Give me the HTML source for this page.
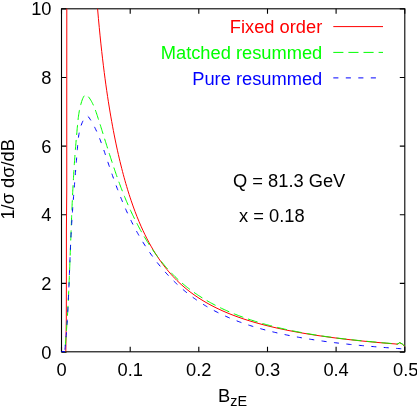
<!DOCTYPE html>
<html><head><meta charset="utf-8"><style>
html,body{margin:0;padding:0;background:#fff;}
svg{display:block;will-change:transform;}
text{font-family:"Liberation Sans",sans-serif;font-size:18.3px;fill:#000;}
</style></head><body>
<svg width="417" height="407" viewBox="0 0 417 407">
<rect width="417" height="407" fill="#fff"/>

<g fill="none" stroke="#000" stroke-width="1.1">
<rect x="61.5" y="8.8" width="343.3" height="343.0"/>
<path d="M61.5,351.8 v-5 M61.5,8.8 v5 M130.2,351.8 v-5 M130.2,8.8 v5 M198.8,351.8 v-5 M198.8,8.8 v5 M267.5,351.8 v-5 M267.5,8.8 v5 M336.1,351.8 v-5 M336.1,8.8 v5 M404.8,351.8 v-5 M404.8,8.8 v5 M61.5,352.1 h5 M404.8,352.1 h-5 M61.5,283.4 h5 M404.8,283.4 h-5 M61.5,214.8 h5 M404.8,214.8 h-5 M61.5,146.1 h5 M404.8,146.1 h-5 M61.5,77.5 h5 M404.8,77.5 h-5 M61.5,8.9 h5 M404.8,8.9 h-5 "/>
</g>
<g fill="none" stroke-width="1" stroke-linejoin="round">
<path d="M65.80,351.60 L66.30,319.00 L66.40,272.00 L66.40,230.00 L66.76,190.00 L66.76,100.00 L66.80,8.70" stroke="#ff0000"/>
<path d="M97.59,8.80 L98.42,18.36 L99.25,27.37 L100.08,35.87 L100.91,43.92 L101.74,51.57 L102.58,58.85 L103.41,65.79 L104.24,72.43 L105.07,78.78 L105.90,84.87 L106.73,90.72 L107.56,96.35 L108.39,101.77 L109.22,107.00 L110.05,112.05 L110.89,116.92 L111.72,121.64 L112.55,126.20 L113.38,130.62 L114.21,134.91 L115.04,139.06 L115.87,143.09 L116.70,147.01 L117.53,150.81 L118.37,154.51 L119.20,158.11 L120.03,161.60 L120.86,165.01 L121.69,168.32 L122.52,171.55 L123.35,174.69 L124.18,177.76 L125.01,180.74 L125.84,183.66 L126.68,186.50 L127.51,189.27 L128.34,191.97 L129.17,194.61 L130.00,197.18 L131.00,200.20 L133.00,205.98 L135.00,211.45 L137.00,216.63 L139.00,221.53 L141.00,226.18 L143.00,230.59 L145.00,234.78 L147.00,238.76 L149.00,242.54 L151.00,246.15 L153.00,249.58 L155.00,252.85 L157.00,255.97 L159.00,258.95 L161.00,261.79 L163.00,264.50 L165.00,267.10 L167.00,269.59 L169.00,271.97 L171.00,274.24 L173.00,276.43 L175.00,278.52 L177.00,280.53 L179.00,282.46 L181.00,284.32 L183.00,286.10 L185.00,287.81 L187.00,289.46 L189.00,291.05 L191.00,292.58 L193.00,294.05 L195.00,295.47 L197.00,296.85 L199.00,298.17 L201.00,299.45 L203.00,300.68 L205.00,301.88 L207.00,303.03 L209.00,304.15 L211.00,305.23 L213.00,306.28 L215.00,307.29 L217.00,308.27 L219.00,309.23 L221.00,310.15 L223.00,311.05 L225.00,311.92 L227.00,312.77 L229.00,313.59 L231.00,314.39 L233.00,315.17 L235.00,315.92 L237.00,316.66 L239.00,317.37 L241.00,318.07 L243.00,318.75 L245.00,319.41 L247.00,320.05 L249.00,320.68 L251.00,321.29 L253.00,321.89 L255.00,322.47 L257.00,323.04 L259.00,323.60 L261.00,324.14 L263.00,324.67 L265.00,325.19 L267.00,325.69 L269.00,326.19 L271.00,326.67 L273.00,327.14 L275.00,327.60 L277.00,328.06 L279.00,328.50 L281.00,328.93 L283.00,329.36 L285.00,329.77 L287.00,330.18 L289.00,330.58 L291.00,330.97 L293.00,331.35 L295.00,331.73 L297.00,332.10 L299.00,332.46 L301.00,332.81 L303.00,333.16 L305.00,333.50 L307.00,333.83 L309.00,334.16 L311.00,334.48 L313.00,334.80 L315.00,335.11 L317.00,335.41 L319.00,335.71 L321.00,336.00 L323.00,336.29 L325.00,336.57 L327.00,336.85 L329.00,337.12 L331.00,337.39 L333.00,337.65 L335.00,337.91 L337.00,338.16 L339.00,338.41 L341.00,338.66 L343.00,338.90 L345.00,339.13 L347.00,339.37 L349.00,339.60 L351.00,339.82 L353.00,340.04 L355.00,340.26 L357.00,340.47 L359.00,340.68 L361.00,340.89 L363.00,341.09 L365.00,341.29 L367.00,341.48 L369.00,341.68 L371.00,341.87 L373.00,342.05 L375.00,342.24 L377.00,342.42 L379.00,342.59 L381.00,342.77 L383.00,342.94 L385.00,343.11 L387.00,343.27 L389.00,343.44 L391.00,343.60 L393.00,343.75 L395.00,343.91 L397.00,344.20 L398.00,344.00 L399.50,342.80 L401.00,343.40 L402.50,344.30 L403.50,345.10 L404.50,346.30" stroke="#ff0000"/>
<path d="M64.81,351.62 L64.94,350.22 L65.06,348.83 L65.18,347.44 L65.30,346.04 L65.41,344.65 L65.53,343.25 L65.64,341.86 L65.75,340.47 L65.86,339.07 L65.96,337.68 L66.07,336.29 L66.17,334.89 L66.28,333.50 L66.38,332.10 L66.48,330.71 L66.57,329.32 L66.67,327.92 L66.76,326.53 L66.86,325.13 L66.95,323.74 L67.04,322.35 L67.13,320.95 L67.21,319.56 L67.30,318.16 L67.38,316.77 L67.47,315.37 L67.55,313.98 L67.63,312.59 L67.71,311.19 L67.79,309.80 L67.87,308.40 L67.94,307.01 L68.02,305.61 L68.09,304.22 L68.16,302.82 L68.23,301.43 L68.31,300.03 L68.38,298.64 L68.44,297.25 L68.51,295.85 L68.58,294.46 L68.64,293.06 L68.71,291.67 L68.77,290.27 L68.84,288.88 L68.90,287.48 L68.96,286.09 L69.02,284.69 L69.08,283.30 L69.14,281.90 L69.20,280.51 L69.26,279.11 L69.32,277.72 L69.38,276.32 L69.43,274.93 L69.49,273.53 L69.54,272.14 L69.60,270.74 L69.65,269.35 L69.71,267.95 L69.76,266.56 L69.82,265.16 L69.87,263.77 L69.92,262.37 L69.97,260.97 L70.03,259.58 L70.08,258.18 L70.13,256.79 L70.18,255.39 L70.23,254.00 L70.28,252.60 L70.33,251.21 L70.39,249.81 L70.44,248.42 L70.49,247.02 L70.54,245.63 L70.59,244.23 L70.64,242.84 L70.69,241.44 L70.74,240.04 L70.79,238.65 L70.84,237.25 L70.89,235.86 L70.95,234.46 L71.00,233.07 L71.05,231.67 L71.10,230.28 L71.15,228.88 L71.21,227.49 L71.26,226.09 L71.31,224.69 L71.37,223.30 L71.42,221.90 L71.47,220.51 L71.53,219.11 L71.58,217.72 L71.64,216.32 L71.70,214.93 L71.75,213.53 L71.81,212.13 L71.87,210.74 L71.93,209.34 L71.99,207.95 L72.05,206.55 L72.11,205.16 L72.17,203.76 L72.23,202.37 L72.30,200.97 L72.36,199.58 L72.43,198.18 L72.49,196.78 L72.56,195.39 L72.63,193.99 L72.69,192.60 L72.76,191.20 L72.83,189.81 L72.91,188.41 L72.98,187.02 L73.05,185.62 L73.13,184.23 L73.20,182.83 L73.28,181.44 L73.36,180.04 L73.44,178.64 L73.52,177.25 L73.60,175.85 L73.68,174.46 L73.76,173.06 L73.85,171.67 L73.94,170.27 L74.02,168.88 L74.11,167.48 L74.21,166.09 L74.30,164.69 L74.39,163.30 L74.49,161.90 L74.58,160.51 L74.68,159.11 L74.78,157.72 L74.88,156.32 L74.99,154.93 L75.09,153.53 L75.20,152.14 L75.31,150.74 L75.42,149.35 L75.53,147.95 L75.64,146.56 L75.75,145.17 L75.87,143.78 L75.99,142.38 L76.10,140.99 L76.22,139.60 L76.34,138.22 L76.46,136.83 L76.59,135.44 L76.71,134.06 L76.83,132.68 L76.96,131.30 L77.09,129.92 L77.21,128.54 L77.34,127.17 L77.47,125.79 L77.60,124.42 L77.73,123.05 L77.86,121.68 L78.00,120.31 L78.15,118.94 L78.31,117.56 L78.49,116.18 L78.68,114.78 L78.90,113.38 L79.13,111.96 L79.39,110.52 L79.68,109.07 L80.01,107.61 L80.36,106.12 L80.75,104.61 L81.19,103.07 L81.66,101.52 L82.18,99.99 L82.73,98.55 L83.33,97.27 L83.98,96.19 L84.66,95.39 L85.38,94.93 L86.14,94.87 L86.94,95.25 L87.76,95.98 L88.56,96.94 L89.34,97.97 L90.08,99.05 L90.78,100.16 L91.45,101.31 L92.09,102.50 L92.70,103.71 L93.28,104.95 L93.84,106.22 L94.37,107.51 L94.89,108.82 L95.39,110.14 L95.87,111.49 L96.34,112.84 L96.80,114.20 L97.26,115.56 L97.70,116.93 L98.14,118.30 L98.58,119.67 L99.02,121.04 L99.45,122.41 L99.88,123.77 L100.32,125.13 L100.75,126.49 L101.17,127.85 L101.60,129.21 L102.03,130.56 L102.45,131.91 L102.87,133.27 L103.30,134.62 L103.72,135.96 L104.14,137.31 L104.56,138.66 L104.98,140.00 L105.40,141.34 L105.82,142.68 L106.24,144.02 L106.67,145.36 L107.09,146.69 L107.51,148.03 L107.93,149.36 L108.35,150.69 L108.77,152.02 L109.20,153.35 L109.62,154.67 L110.05,156.00 L110.48,157.32 L110.91,158.64 L111.34,159.96 L111.77,161.28 L112.20,162.60 L112.64,163.92 L113.07,165.23 L113.51,166.55 L113.95,167.86 L114.40,169.17 L114.84,170.48 L115.29,171.78 L115.75,173.09 L116.20,174.40 L116.66,175.70 L117.12,177.00 L117.58,178.30 L118.05,179.60 L118.52,180.90 L118.99,182.20 L119.47,183.50 L119.95,184.79 L120.43,186.08 L120.92,187.38 L121.42,188.67 L121.91,189.96 L122.41,191.25 L122.92,192.53 L123.43,193.82 L123.95,195.11 L124.47,196.39 L124.99,197.67 L125.52,198.95 L126.06,200.23 L126.60,201.51 L127.15,202.79 L127.70,204.07 L128.26,205.35 L128.82,206.62 L129.39,207.89 L129.96,209.17 L130.55,210.44 L131.13,211.71 L131.73,212.98 L132.33,214.25 L132.94,215.51 L133.55,216.78 L134.17,218.04 L134.79,219.30 L135.43,220.56 L136.07,221.82 L136.71,223.07 L137.36,224.33 L138.02,225.57 L138.69,226.82 L139.36,228.06 L140.04,229.30 L140.73,230.54 L141.42,231.77 L142.12,233.00 L142.82,234.23 L143.54,235.45 L144.26,236.67 L144.98,237.88 L145.72,239.09 L146.46,240.30 L147.20,241.50 L147.96,242.69 L148.72,243.89 L149.49,245.07 L150.26,246.25 L151.05,247.43 L151.84,248.60 L152.63,249.76 L153.44,250.92 L154.25,252.07 L155.07,253.22 L155.89,254.36 L156.73,255.49 L157.57,256.62 L158.42,257.74 L159.27,258.85 L160.13,259.96 L161.01,261.06 L161.88,262.15 L162.77,263.24 L163.66,264.31 L164.56,265.38 L165.47,266.44 L166.39,267.50 L167.31,268.54 L168.24,269.58 L169.18,270.61 L170.13,271.63 L171.09,272.64 L172.05,273.64 L173.02,274.64 L174.00,275.62 L174.98,276.60 L175.98,277.56 L176.98,278.52 L177.99,279.46 L179.01,280.40 L180.04,281.32 L181.07,282.24 L182.11,283.15 L183.17,284.04 L184.22,284.93 L185.29,285.80 L186.36,286.67 L187.45,287.52 L188.54,288.37 L189.63,289.21 L190.74,290.03 L191.85,290.85 L192.96,291.66 L194.09,292.46 L195.22,293.25 L196.36,294.03 L197.50,294.80 L198.66,295.56 L199.81,296.31 L200.98,297.05 L202.15,297.79 L203.33,298.51 L204.51,299.23 L205.70,299.94 L206.89,300.64 L208.09,301.33 L209.30,302.01 L210.51,302.68 L211.73,303.35 L212.95,304.00 L214.18,304.65 L215.41,305.29 L216.65,305.93 L217.90,306.55 L219.14,307.17 L220.40,307.78 L221.65,308.38 L222.92,308.97 L224.18,309.55 L225.46,310.13 L226.73,310.70 L228.01,311.26 L229.30,311.82 L230.58,312.37 L231.88,312.91 L233.17,313.44 L234.47,313.97 L235.78,314.49 L237.08,315.00 L238.39,315.50 L239.71,316.00 L241.02,316.49 L242.34,316.98 L243.67,317.45 L244.99,317.92 L246.32,318.39 L247.65,318.85 L248.99,319.30 L250.32,319.74 L251.66,320.18 L253.01,320.62 L254.35,321.04 L255.70,321.46 L257.04,321.88 L258.39,322.29 L259.75,322.69 L261.10,323.09 L262.46,323.48 L263.81,323.87 L265.17,324.25 L266.53,324.62 L267.89,324.99 L269.26,325.35 L270.62,325.71 L271.99,326.07 L273.35,326.42 L274.72,326.76 L276.08,327.10 L277.45,327.43 L278.82,327.76 L280.19,328.08 L281.56,328.40 L282.93,328.71 L284.30,329.02 L285.67,329.33 L287.04,329.63 L288.41,329.93 L289.77,330.22 L291.14,330.50 L292.51,330.79 L293.88,331.07 L295.25,331.34 L296.62,331.61 L297.99,331.88 L299.35,332.14 L300.72,332.40 L302.09,332.66 L303.46,332.91 L304.83,333.15 L306.19,333.40 L307.56,333.64 L308.93,333.87 L310.30,334.11 L311.67,334.34 L313.04,334.56 L314.40,334.79 L315.77,335.00 L317.14,335.22 L318.51,335.43 L319.88,335.64 L321.25,335.85 L322.62,336.05 L324.00,336.25 L325.37,336.45 L326.74,336.65 L328.11,336.84 L329.49,337.03 L330.86,337.22 L332.23,337.40 L333.61,337.58 L334.98,337.76 L336.36,337.94 L337.74,338.11 L339.11,338.28 L340.49,338.45 L341.87,338.62 L343.25,338.78 L344.63,338.94 L346.01,339.10 L347.39,339.26 L348.77,339.42 L350.16,339.57 L351.54,339.73 L352.93,339.88 L354.31,340.03 L355.70,340.17 L357.09,340.32 L358.48,340.46 L359.87,340.60 L361.26,340.74 L362.65,340.88 L364.05,341.02 L365.44,341.16 L366.84,341.29 L368.23,341.43 L369.63,341.56 L371.03,341.69 L372.43,341.82 L373.83,341.95 L375.24,342.08 L376.64,342.21 L378.05,342.33 L379.46,342.46 L380.86,342.59 L382.28,342.71 L383.69,342.83 L385.10,342.96 L386.52,343.08 L387.93,343.20 L389.35,343.32 L390.77,343.45 L392.19,343.57 L397.00,344.00 L398.00,343.80 L399.50,342.60 L401.00,343.20 L402.50,344.10 L403.50,344.90 L404.40,346.00" stroke="#00ff00" stroke-dasharray="10.1,5" stroke-dashoffset="9.5"/>
<path d="M61.50,351.60 L64.73,351.59 L64.87,350.25 L65.00,348.91 L65.13,347.56 L65.26,346.22 L65.39,344.87 L65.51,343.53 L65.63,342.18 L65.75,340.84 L65.86,339.49 L65.97,338.15 L66.08,336.80 L66.19,335.45 L66.30,334.11 L66.40,332.76 L66.50,331.41 L66.60,330.07 L66.70,328.72 L66.79,327.37 L66.88,326.03 L66.98,324.68 L67.06,323.33 L67.15,321.99 L67.24,320.64 L67.32,319.29 L67.40,317.94 L67.48,316.59 L67.56,315.25 L67.63,313.90 L67.71,312.55 L67.78,311.20 L67.86,309.85 L67.93,308.50 L68.00,307.16 L68.06,305.81 L68.13,304.46 L68.20,303.11 L68.26,301.76 L68.32,300.41 L68.39,299.06 L68.45,297.71 L68.51,296.36 L68.57,295.02 L68.63,293.67 L68.68,292.32 L68.74,290.97 L68.80,289.62 L68.85,288.27 L68.91,286.92 L68.96,285.57 L69.02,284.22 L69.07,282.87 L69.12,281.52 L69.17,280.17 L69.23,278.82 L69.28,277.47 L69.33,276.12 L69.38,274.77 L69.43,273.42 L69.49,272.07 L69.54,270.72 L69.59,269.37 L69.64,268.02 L69.69,266.67 L69.74,265.33 L69.80,263.98 L69.85,262.63 L69.90,261.28 L69.95,259.93 L70.01,258.58 L70.06,257.23 L70.12,255.88 L70.17,254.53 L70.23,253.18 L70.28,251.83 L70.34,250.48 L70.40,249.13 L70.46,247.78 L70.52,246.44 L70.58,245.09 L70.64,243.74 L70.70,242.39 L70.76,241.04 L70.83,239.69 L70.89,238.34 L70.96,236.99 L71.03,235.65 L71.10,234.30 L71.17,232.95 L71.24,231.60 L71.31,230.25 L71.39,228.91 L71.46,227.56 L71.54,226.21 L71.62,224.86 L71.70,223.52 L71.78,222.17 L71.87,220.82 L71.95,219.48 L72.04,218.13 L72.12,216.78 L72.21,215.44 L72.30,214.09 L72.39,212.74 L72.48,211.40 L72.58,210.05 L72.67,208.70 L72.77,207.36 L72.86,206.01 L72.96,204.66 L73.06,203.32 L73.15,201.97 L73.25,200.63 L73.35,199.28 L73.45,197.94 L73.56,196.59 L73.66,195.24 L73.76,193.90 L73.87,192.55 L73.97,191.21 L74.07,189.86 L74.18,188.52 L74.29,187.17 L74.39,185.83 L74.50,184.48 L74.61,183.13 L74.71,181.79 L74.82,180.44 L74.93,179.10 L75.04,177.75 L75.15,176.41 L75.26,175.06 L75.37,173.72 L75.48,172.37 L75.59,171.03 L75.70,169.68 L75.81,168.34 L75.91,166.99 L76.02,165.65 L76.13,164.30 L76.24,162.96 L76.35,161.61 L76.46,160.27 L76.57,158.92 L76.68,157.58 L76.79,156.23 L76.90,154.89 L77.01,153.54 L77.11,152.20 L77.22,150.85 L77.33,149.51 L77.43,148.16 L77.54,146.81 L77.65,145.47 L77.76,144.12 L77.87,142.78 L78.00,141.43 L78.13,140.09 L78.28,138.74 L78.45,137.40 L78.64,136.05 L78.85,134.71 L79.08,133.37 L79.34,132.02 L79.64,130.68 L79.96,129.34 L80.32,128.00 L80.72,126.66 L81.17,125.32 L81.65,123.98 L82.19,122.64 L82.77,121.31 L83.40,119.97 L84.08,118.70 L84.80,117.57 L85.55,116.69 L86.31,116.13 L87.08,115.98 L87.85,116.33 L88.61,117.08 L89.36,118.09 L90.09,119.21 L90.81,120.34 L91.50,121.49 L92.18,122.64 L92.83,123.81 L93.48,124.98 L94.10,126.16 L94.71,127.36 L95.31,128.56 L95.89,129.77 L96.46,130.98 L97.01,132.21 L97.55,133.44 L98.08,134.67 L98.60,135.91 L99.11,137.16 L99.61,138.42 L100.10,139.68 L100.59,140.94 L101.06,142.21 L101.53,143.48 L101.99,144.76 L102.44,146.03 L102.89,147.32 L103.34,148.60 L103.78,149.89 L104.21,151.17 L104.65,152.46 L105.08,153.75 L105.51,155.04 L105.94,156.34 L106.37,157.63 L106.80,158.92 L107.24,160.21 L107.67,161.50 L108.10,162.79 L108.54,164.07 L108.97,165.36 L109.41,166.65 L109.85,167.93 L110.29,169.22 L110.74,170.50 L111.18,171.78 L111.63,173.06 L112.08,174.34 L112.53,175.62 L112.98,176.90 L113.44,178.17 L113.89,179.45 L114.35,180.72 L114.82,181.99 L115.28,183.26 L115.75,184.53 L116.22,185.80 L116.70,187.07 L117.17,188.33 L117.66,189.59 L118.14,190.85 L118.63,192.11 L119.12,193.37 L119.61,194.62 L120.11,195.88 L120.61,197.13 L121.12,198.38 L121.63,199.62 L122.14,200.87 L122.66,202.11 L123.18,203.35 L123.70,204.59 L124.23,205.83 L124.77,207.06 L125.31,208.30 L125.85,209.53 L126.40,210.75 L126.95,211.98 L127.51,213.20 L128.07,214.42 L128.64,215.64 L129.22,216.85 L129.80,218.07 L130.38,219.28 L130.97,220.48 L131.57,221.69 L132.17,222.89 L132.77,224.09 L133.39,225.28 L134.00,226.48 L134.63,227.67 L135.26,228.85 L135.90,230.04 L136.54,231.22 L137.19,232.39 L137.85,233.57 L138.51,234.74 L139.18,235.91 L139.86,237.07 L140.54,238.23 L141.23,239.39 L141.93,240.55 L142.63,241.70 L143.35,242.84 L144.06,243.99 L144.79,245.13 L145.53,246.26 L146.27,247.40 L147.02,248.53 L147.77,249.65 L148.53,250.77 L149.31,251.89 L150.08,253.00 L150.87,254.11 L151.66,255.21 L152.46,256.31 L153.27,257.40 L154.08,258.49 L154.90,259.57 L155.73,260.65 L156.56,261.73 L157.40,262.79 L158.25,263.86 L159.11,264.91 L159.97,265.97 L160.84,267.01 L161.72,268.05 L162.60,269.09 L163.49,270.11 L164.39,271.14 L165.29,272.15 L166.20,273.16 L167.12,274.16 L168.04,275.16 L168.97,276.15 L169.91,277.13 L170.85,278.11 L171.80,279.08 L172.76,280.04 L173.72,280.99 L174.69,281.94 L175.66,282.88 L176.65,283.81 L177.64,284.74 L178.63,285.65 L179.63,286.56 L180.64,287.46 L181.65,288.36 L182.67,289.24 L183.70,290.12 L184.73,290.99 L185.77,291.85 L186.82,292.70 L187.87,293.54 L188.93,294.37 L189.99,295.20 L191.06,296.01 L192.13,296.82 L193.22,297.62 L194.30,298.40 L195.40,299.18 L196.50,299.95 L197.60,300.71 L198.71,301.46 L199.83,302.20 L200.95,302.93 L202.08,303.65 L203.21,304.37 L204.35,305.07 L205.50,305.77 L206.65,306.45 L207.80,307.13 L208.96,307.80 L210.13,308.45 L211.30,309.11 L212.47,309.75 L213.65,310.38 L214.84,311.01 L216.03,311.62 L217.22,312.23 L218.42,312.83 L219.62,313.42 L220.83,314.01 L222.04,314.58 L223.26,315.15 L224.48,315.71 L225.70,316.26 L226.93,316.81 L228.16,317.35 L229.40,317.88 L230.64,318.40 L231.88,318.91 L233.13,319.42 L234.38,319.92 L235.63,320.42 L236.89,320.90 L238.15,321.38 L239.41,321.86 L240.68,322.32 L241.95,322.78 L243.22,323.23 L244.50,323.68 L245.78,324.12 L247.06,324.55 L248.35,324.98 L249.63,325.40 L250.92,325.81 L252.22,326.22 L253.51,326.62 L254.81,327.02 L256.11,327.41 L257.41,327.79 L258.71,328.17 L260.02,328.54 L261.33,328.91 L262.64,329.27 L263.95,329.63 L265.26,329.98 L266.58,330.33 L267.89,330.67 L269.21,331.00 L270.53,331.33 L271.85,331.66 L273.18,331.98 L274.50,332.29 L275.83,332.60 L277.15,332.91 L278.48,333.21 L279.81,333.51 L281.14,333.80 L282.47,334.09 L283.80,334.37 L285.13,334.65 L286.46,334.93 L287.79,335.20 L289.12,335.47 L290.46,335.73 L291.79,335.99 L293.12,336.25 L294.46,336.50 L295.79,336.75 L297.12,336.99 L298.46,337.24 L299.79,337.48 L301.12,337.71 L302.46,337.94 L303.79,338.17 L305.12,338.40 L306.45,338.62 L307.78,338.84 L309.12,339.06 L310.45,339.27 L311.78,339.48 L313.11,339.69 L314.44,339.89 L315.77,340.09 L317.10,340.29 L318.44,340.49 L319.77,340.68 L321.10,340.87 L322.43,341.06 L323.76,341.25 L325.09,341.43 L326.42,341.61 L327.75,341.79 L329.09,341.96 L330.42,342.13 L331.75,342.30 L333.08,342.47 L334.41,342.64 L335.75,342.80 L337.08,342.96 L338.41,343.12 L339.75,343.28 L341.08,343.43 L342.41,343.58 L343.75,343.74 L345.08,343.88 L346.42,344.03 L347.75,344.17 L349.09,344.32 L350.42,344.46 L351.76,344.60 L353.10,344.73 L354.44,344.87 L355.77,345.00 L357.11,345.13 L358.45,345.26 L359.79,345.39 L361.13,345.52 L362.47,345.64 L363.81,345.77 L365.16,345.89 L366.50,346.01 L367.84,346.13 L369.19,346.25 L370.53,346.36 L371.88,346.48 L373.22,346.59 L374.57,346.71 L375.92,346.82 L377.27,346.93 L378.62,347.04 L379.97,347.15 L381.32,347.26 L382.67,347.36 L384.03,347.47 L385.38,347.57 L386.74,347.68 L388.09,347.78 L389.45,347.88 L390.81,347.98 L392.17,348.08 L393.53,348.18 L394.89,348.28 L396.25,348.38 L397.61,348.48 L398.98,348.58 L400.34,348.68 L401.71,348.77 L403.08,348.87 L404.45,348.97" stroke="#0000ff" stroke-dasharray="5.1,7.4" stroke-dashoffset="7.4"/>
<path d="M61.5,351.6 H65" stroke="#0000ff"/>
<path d="M333.3,26.6 H383" stroke="#ff0000"/>
<path d="M333.3,52.4 H383" stroke="#00ff00" stroke-dasharray="10.1,5"/>
<path d="M333.3,77.9 H383" stroke="#0000ff" stroke-dasharray="5.1,7.4"/>
</g>
<text x="61.5" y="376.2" text-anchor="middle">0</text>
<text x="130.2" y="376.2" text-anchor="middle">0.1</text>
<text x="198.8" y="376.2" text-anchor="middle">0.2</text>
<text x="267.5" y="376.2" text-anchor="middle">0.3</text>
<text x="336.1" y="376.2" text-anchor="middle">0.4</text>
<text x="405.7" y="376.2" text-anchor="middle">0.5</text>
<text x="51.5" y="358.6" text-anchor="end">0</text>
<text x="51.5" y="289.9" text-anchor="end">2</text>
<text x="51.5" y="221.3" text-anchor="end">4</text>
<text x="51.5" y="152.6" text-anchor="end">6</text>
<text x="51.5" y="84.0" text-anchor="end">8</text>
<text x="51.5" y="15.4" text-anchor="end">10</text>
<text x="322.3" y="32.5" text-anchor="end" style="fill:#ff0000">Fixed order</text>
<text x="322.3" y="58.5" text-anchor="end" style="fill:#00ff00">Matched resummed</text>
<text x="322.3" y="84.5" text-anchor="end" style="fill:#0000ff">Pure resummed</text>
<text x="233" y="186.5">Q = 81.3 GeV</text>
<text x="239" y="221.5">x = 0.18</text>
<text x="218" y="401.8">B<tspan dy="4.4" style="font-size:14.4px">zE</tspan></text>
<text transform="translate(14.3,179.3) rotate(-90)" text-anchor="middle">1/σ dσ/dB</text>
</svg></body></html>
